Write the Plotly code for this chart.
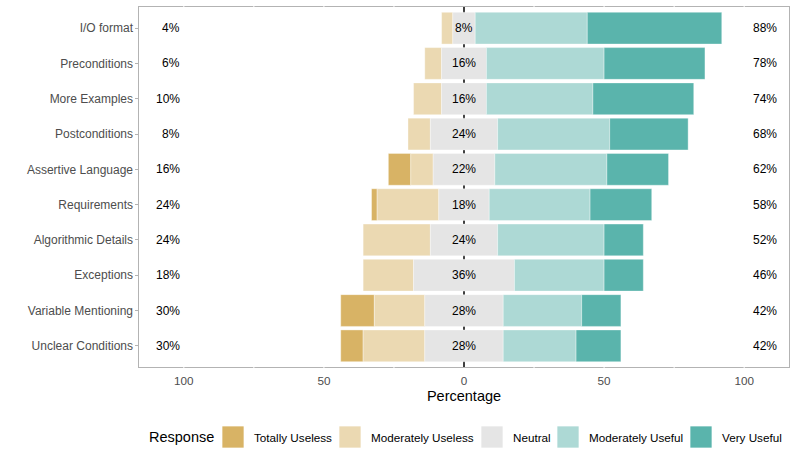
import plotly.graph_objects as go

items = ["I/O format", "Preconditions", "More Examples", "Postconditions",
         "Assertive Language", "Requirements", "Algorithmic Details",
         "Exceptions", "Variable Mentioning", "Unclear Conditions"]
totally_useless   = [0, 0, 0, 0, 8, 2, 0, 0, 12, 8]
moderately_useless = [4, 6, 10, 8, 8, 22, 24, 18, 18, 22]
neutral           = [8, 16, 16, 24, 22, 18, 24, 36, 28, 28]
moderately_useful = [40, 42, 38, 40, 40, 36, 38, 32, 28, 26]
very_useful       = [48, 36, 36, 28, 22, 22, 14, 14, 14, 16]
responses = ["Totally Useless", "Moderately Useless", "Neutral",
             "Moderately Useful", "Very Useful"]
x_ticks = [-100, -50, 0, 50, 100]
x_tick_labels = ["100", "50", "0", "50", "100"]
grid_x = [-100, -75, -50, -25, 25, 50, 75, 100]

colors = {
    "Totally Useless": "#D8B365",
    "Moderately Useless": "#EBD9B2",
    "Neutral": "#E5E5E5",
    "Moderately Useful": "#ADD9D5",
    "Very Useful": "#5AB4AC",
}

W, H = 797, 463
ML, MR, MT, MB = 139, 8, 7, 96
PW, PH = W - ML - MR, H - MT - MB


def px2x(px):
    return (px - ML) / PW


def px2y(py):
    return (H - MB - py) / PH


half_n = [n / 2 for n in neutral]
segments = [
    ("Totally Useless", totally_useless,
     [-(h + m + t) for h, m, t in zip(half_n, moderately_useless, totally_useless)]),
    ("Moderately Useless", moderately_useless,
     [-(h + m) for h, m in zip(half_n, moderately_useless)]),
    ("Neutral", neutral, [-h for h in half_n]),
    ("Moderately Useful", moderately_useful, half_n),
    ("Very Useful", very_useful,
     [h + m for h, m in zip(half_n, moderately_useful)]),
]

fig = go.Figure()
for name, vals, base in segments:
    fig.add_trace(go.Bar(
        y=items, x=vals, base=base, orientation="h", name=name,
        marker=dict(color=colors[name], line=dict(color="rgba(255,255,255,0.6)", width=0.6)),
        width=0.9, showlegend=False, hoverinfo="x+y+name",
    ))

annotations = []
for i, item in enumerate(items):
    low = totally_useless[i] + moderately_useless[i]
    high = moderately_useful[i] + very_useful[i]
    annotations.append(dict(x=0, y=item, text=f"{neutral[i]}%", showarrow=False,
                            font=dict(size=12, color="black"), xanchor="center"))
    annotations.append(dict(x=-100.5, y=item, text=f"{low}%", showarrow=False,
                            font=dict(size=12, color="black"), xanchor="right"))
    annotations.append(dict(x=102.5, y=item, text=f"{high}%", showarrow=False,
                            font=dict(size=12, color="black"), xanchor="left"))

shapes = [dict(type="line", x0=0, x1=0, y0=0, y1=1, xref="x", yref="paper",
               line=dict(color="black", width=1.5), layer="below")]
# white grid lines crossing the panel border (ggplot look)
for gx in grid_x:
    for y0, y1 in ((-0.006, 0.006), (0.994, 1.006)):
        shapes.append(dict(type="line", x0=gx, x1=gx, y0=y0, y1=y1, xref="x", yref="paper",
                           line=dict(color="white", width=1), layer="above"))

# custom legend (ggplot-style, large square keys)
legend_cy = 437
swatch_left = [222, 339, 481, 557, 690]
label_left = [252, 369, 511, 587, 720]
key = 22
annotations.append(dict(x=px2x(147), y=px2y(legend_cy), xref="paper", yref="paper",
                        text="Response", showarrow=False, xanchor="left", yanchor="middle",
                        font=dict(size=14.5, color="black")))
for name, sl, ll in zip(responses, swatch_left, label_left):
    shapes.append(dict(type="rect", xref="paper", yref="paper",
                       x0=px2x(sl), x1=px2x(sl + key),
                       y0=px2y(legend_cy - key / 2), y1=px2y(legend_cy + key / 2),
                       fillcolor=colors[name], line=dict(color="rgba(255,255,255,0.7)", width=1)))
    annotations.append(dict(x=px2x(ll), y=px2y(legend_cy), xref="paper", yref="paper",
                            text=name, showarrow=False, xanchor="left", yanchor="middle",
                            font=dict(size=11.7, color="black")))

fig.update_layout(
    width=W, height=H,
    barmode="overlay",
    plot_bgcolor="white", paper_bgcolor="white",
    font=dict(family="Liberation Sans, Arial, sans-serif", color="black"),
    margin=dict(l=ML, r=MR, t=MT, b=MB, autoexpand=False),
    annotations=annotations,
    shapes=shapes,
    showlegend=False,
    xaxis=dict(range=[-116, 116], tickvals=x_ticks, ticktext=x_tick_labels,
               showgrid=False, zeroline=False, showline=True, mirror=True,
               linecolor="#B3B3B3", linewidth=1.2, ticks="", ticklabelstandoff=3,
               tickfont=dict(size=11.7, color="#4D4D4D"), automargin=False,
               title=dict(text="Percentage", font=dict(size=14.5), standoff=4)),
    yaxis=dict(categoryorder="array", categoryarray=items, range=[9.6, -0.6],
               showgrid=False, zeroline=False, showline=True, mirror=True,
               linecolor="#B3B3B3", linewidth=1.2, ticks="outside", ticklen=2.5,
               tickcolor="#B3B3B3", tickfont=dict(size=12, color="#4D4D4D"),
               automargin=False),
)

fig.write_html("out.html", post_script="document.body.style.margin='0';",
               config={"displayModeBar": False})
